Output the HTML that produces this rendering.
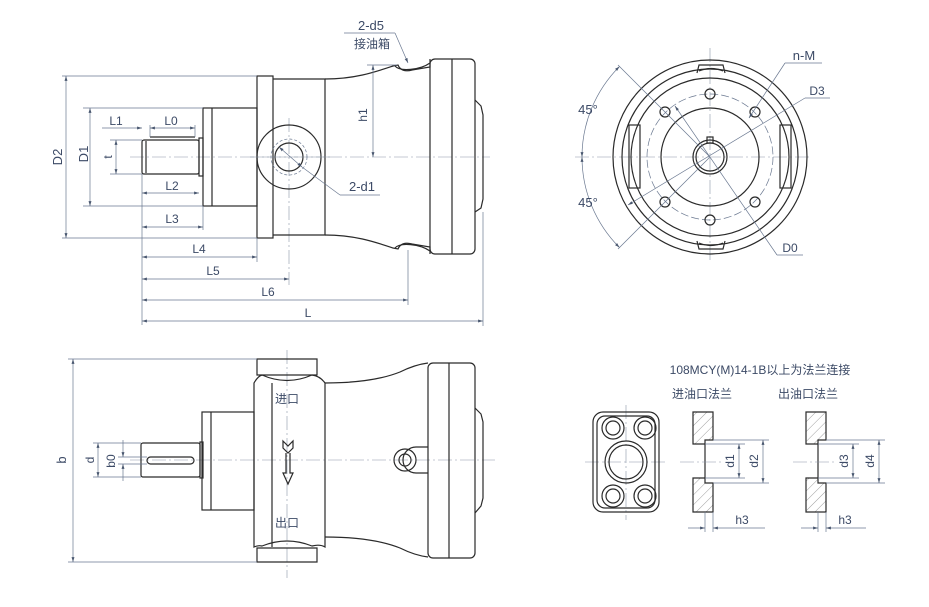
<!DOCTYPE html>
<html><head><meta charset="utf-8"><style>
html,body{margin:0;padding:0;background:#fff}
svg{display:block}
text{font-family:"Liberation Sans","Noto Sans CJK SC",sans-serif;fill:#3c4a66}
.o{fill:none;stroke:#2a2a2a;stroke-width:1.2}
.d{fill:none;stroke:#6a7890;stroke-width:0.7}
.c{fill:none;stroke:#8a96a8;stroke-width:0.6;stroke-dasharray:14 3 2 3}
</style></head><body>
<svg width="929" height="607" viewBox="0 0 929 607" xmlns="http://www.w3.org/2000/svg">
<defs>
<marker id="a" viewBox="0 0 10 10" refX="10" refY="5" markerWidth="7" markerHeight="7" orient="auto-start-reverse"><path d="M0,2 L10,5 L0,8z" fill="#4a5870"/></marker>
<pattern id="hp" patternUnits="userSpaceOnUse" width="7" height="7" patternTransform="rotate(45)"><line x1="0" y1="0" x2="0" y2="7" stroke="#777" stroke-width="0.7"/></pattern>
</defs>

<!-- ===== TOP LEFT VIEW ===== -->
<line class="c" x1="130" y1="157" x2="490" y2="157"/>
<line class="c" x1="289" y1="118" x2="289" y2="285"/>
<rect class="o" x="142" y="140" width="57" height="34" rx="2"/>
<line class="o" x1="146" y1="141" x2="146" y2="173"/>
<rect class="o" x="199" y="138" width="4" height="38"/>
<line class="o" x1="150" y1="137" x2="195" y2="137"/>
<rect class="o" x="203" y="108" width="54" height="98"/>
<line class="o" x1="212" y1="108" x2="212" y2="206"/>
<rect class="o" x="257" y="76" width="16" height="162"/>
<path class="o" d="M273,79 H325 V235 H273"/>
<path class="o" d="M325,79 C355,79 375,72 393,66 L398,65 C400,70 405,72 412,70 L430,67 V59"/>
<path class="o" d="M325,235 C355,235 375,242 393,248 L398,249 C400,244 405,242 412,244 L430,247 V254"/>
<path class="o" d="M395,66 C400,72 420,70 430,63"/>
<path class="o" d="M395,248 C400,242 420,244 430,251"/>
<rect class="o" x="430" y="59" width="45" height="195" rx="5"/>
<line class="o" x1="452" y1="59" x2="452" y2="254"/>
<path class="o" d="M475,100 L481,106 L483,115 V199 L481,208 L475,212"/>
<circle class="o" cx="289" cy="157" r="32" fill="#fff"/>
<circle class="d" cx="289" cy="157" r="18" stroke-dasharray="3 2"/>
<circle class="o" cx="289" cy="157" r="14"/>
<line class="c" x1="250" y1="157" x2="330" y2="157"/>
<line class="d" x1="62" y1="76" x2="257" y2="76"/><line class="d" x1="62" y1="238" x2="257" y2="238"/>
<line class="d" x1="66" y1="76" x2="66" y2="238" marker-start="url(#a)" marker-end="url(#a)"/>
<text x="62" y="157" font-size="13" transform="rotate(-90 62 157)" text-anchor="middle">D2</text>
<line class="d" x1="83" y1="108" x2="203" y2="108"/><line class="d" x1="83" y1="206" x2="203" y2="206"/>
<line class="d" x1="90" y1="108" x2="90" y2="206" marker-start="url(#a)" marker-end="url(#a)"/>
<text x="88" y="154" font-size="13" transform="rotate(-90 88 154)" text-anchor="middle">D1</text>
<line class="d" x1="110" y1="140" x2="142" y2="140"/><line class="d" x1="110" y1="174" x2="142" y2="174"/>
<line class="d" x1="116" y1="140" x2="116" y2="174" marker-start="url(#a)" marker-end="url(#a)"/>
<text x="112" y="157" font-size="12" transform="rotate(-90 112 157)" text-anchor="middle">t</text>
<line class="d" x1="150" y1="125" x2="150" y2="137"/><line class="d" x1="195" y1="125" x2="195" y2="137"/>
<line class="d" x1="102" y1="128" x2="142" y2="128" marker-end="url(#a)"/>
<line class="d" x1="150" y1="128" x2="195" y2="128" marker-start="url(#a)" marker-end="url(#a)"/>
<text x="116" y="125" font-size="12" text-anchor="middle">L1</text>
<text x="171" y="125" font-size="12" text-anchor="middle">L0</text>
<line class="d" x1="142" y1="174" x2="142" y2="325"/>
<line class="d" x1="142" y1="193" x2="199" y2="193" marker-start="url(#a)" marker-end="url(#a)"/>
<text x="172" y="190" font-size="12" text-anchor="middle">L2</text>
<line class="d" x1="203" y1="206" x2="203" y2="230"/>
<line class="d" x1="142" y1="227" x2="203" y2="227" marker-start="url(#a)" marker-end="url(#a)"/>
<text x="172" y="223" font-size="12" text-anchor="middle">L3</text>
<line class="d" x1="257" y1="238" x2="257" y2="262"/>
<line class="d" x1="142" y1="257" x2="257" y2="257" marker-start="url(#a)" marker-end="url(#a)"/>
<text x="199" y="253" font-size="12" text-anchor="middle">L4</text>
<line class="d" x1="142" y1="279" x2="289" y2="279" marker-start="url(#a)" marker-end="url(#a)"/>
<text x="213" y="275" font-size="12" text-anchor="middle">L5</text>
<line class="d" x1="408" y1="250" x2="408" y2="305"/>
<line class="d" x1="142" y1="300" x2="408" y2="300" marker-start="url(#a)" marker-end="url(#a)"/>
<text x="268" y="296" font-size="12" text-anchor="middle">L6</text>
<line class="d" x1="483" y1="212" x2="483" y2="326"/>
<line class="d" x1="142" y1="321" x2="483" y2="321" marker-start="url(#a)" marker-end="url(#a)"/>
<text x="308" y="317" font-size="12" text-anchor="middle">L</text>
<line class="d" x1="367" y1="65" x2="397" y2="65"/>
<line class="d" x1="373" y1="65" x2="373" y2="157" marker-start="url(#a)" marker-end="url(#a)"/>
<text x="367" y="115" font-size="12" transform="rotate(-90 367 115)" text-anchor="middle">h1</text>
<text x="371" y="30" font-size="13" text-anchor="middle">2-d5</text>
<line class="d" x1="344" y1="33" x2="395" y2="33"/>
<line class="d" x1="395" y1="33" x2="408" y2="63" marker-end="url(#a)"/>
<text x="372" y="48" font-size="12" text-anchor="middle">接油箱</text>
<line class="d" x1="279" y1="147" x2="302" y2="167" marker-start="url(#a)" marker-end="url(#a)"/>
<line class="d" x1="302" y1="167" x2="340" y2="195"/><line class="d" x1="340" y1="195" x2="380" y2="195"/>
<text x="362" y="191" font-size="13" text-anchor="middle">2-d1</text>

<!-- ===== TOP RIGHT VIEW ===== -->
<line class="c" x1="575" y1="157" x2="810" y2="157"/>
<line class="c" x1="710" y1="48" x2="710" y2="262"/>
<circle class="o" cx="710" cy="157" r="97"/>
<circle class="o" cx="710" cy="157" r="88"/>
<circle class="o" cx="710" cy="157" r="79"/>
<circle class="d" cx="710" cy="157" r="63" stroke-dasharray="8 3"/>
<circle class="o" cx="710" cy="157" r="49"/>
<circle class="o" cx="710" cy="157" r="17"/>
<circle class="o" cx="710" cy="157" r="14"/>
<rect class="o" x="707" y="137" width="6" height="6"/>
<rect class="o" x="629" y="125" width="11" height="63" fill="#fff"/>
<rect class="o" x="780" y="125" width="11" height="63" fill="#fff"/>
<path class="o" d="M697,73 L699,65 H723 L725,73 M699,71 Q711,66 723,71" fill="#fff"/>
<path class="o" d="M697,241 L699,249 H723 L725,241 M699,243 Q711,248 723,243" fill="#fff"/>
<g class="o">
<circle cx="710" cy="94" r="5"/><circle cx="710" cy="220" r="5"/>
<circle cx="665" cy="112" r="5"/><circle cx="755" cy="112" r="5"/>
<circle cx="665" cy="202" r="5"/><circle cx="755" cy="202" r="5"/>
</g>
<path class="d" d="M619.5,66.5 A128,128 0 0 0 582,157" marker-start="url(#a)" marker-end="url(#a)"/>
<path class="d" d="M582,157 A128,128 0 0 0 619.5,247.5" marker-start="url(#a)" marker-end="url(#a)"/>
<line class="d" x1="618" y1="65" x2="710" y2="157"/><line class="d" x1="618" y1="249" x2="710" y2="157"/>
<text x="588" y="114" font-size="13" text-anchor="middle">45°</text>
<text x="588" y="207" font-size="13" text-anchor="middle">45°</text>
<line class="d" x1="749" y1="118" x2="785" y2="63" marker-start="url(#a)"/><line class="d" x1="785" y1="63" x2="822" y2="63"/>
<text x="804" y="60" font-size="13" text-anchor="middle">n-M</text>
<line class="d" x1="628" y1="205" x2="805" y2="98" marker-start="url(#a)"/><line class="d" x1="805" y1="98" x2="830" y2="98"/>
<text x="817" y="95" font-size="12" text-anchor="middle">D3</text>
<line class="d" x1="675" y1="106" x2="777" y2="255" marker-start="url(#a)"/><line class="d" x1="777" y1="255" x2="803" y2="255"/>
<text x="790" y="252" font-size="12" text-anchor="middle">D0</text>

<!-- ===== BOTTOM LEFT VIEW ===== -->
<line class="c" x1="130" y1="460" x2="495" y2="460"/>
<line class="c" x1="287" y1="350" x2="287" y2="578"/>
<rect class="o" x="141" y="443" width="59" height="34" rx="2"/>
<rect class="o" x="200" y="442" width="3" height="36"/>
<rect class="o" x="147" y="457" width="47" height="7" rx="3.5"/>
<rect class="o" x="202" y="412" width="52" height="98"/>
<line class="o" x1="211" y1="412" x2="211" y2="510"/>
<path class="o" d="M257,359 H317 V375 H257 Z M257,548 H317 V562 H257 Z" fill="#fff"/>
<path class="o" d="M254,383 Q258,376 262,375 Q287,386 312,375 Q320,376 325,383 V547 Q320,544 312,546 Q287,536 262,546 Q258,545 254,547 Z"/>
<line class="o" x1="272" y1="383" x2="272" y2="547"/>
<path class="o" d="M325,383 C355,383 380,380 400,372 C410,367 420,364 428,363"/>
<path class="o" d="M325,537 C355,537 380,540 400,548 C410,553 420,556 428,557"/>
<rect class="o" x="428" y="363" width="47" height="195" rx="5"/>
<line class="o" x1="449" y1="363" x2="449" y2="558"/>
<path class="o" d="M475,408 L481,414 L483,422 V498 L481,506 L475,513"/>
<path class="o" d="M428,447 H416 A11,11 0 1 0 416,473 H428"/>
<circle class="o" cx="405" cy="460" r="11"/>
<circle class="o" cx="405" cy="460" r="6"/>
<path class="o" d="M283,441 L288,446 L293,441 L293,448 L288,453 L283,448 Z M286,453 V473 H283 L288,484 L293,473 H290 V453" fill="#fff"/>
<text x="287" y="403" font-size="12" text-anchor="middle">进口</text>
<text x="287" y="527" font-size="12" text-anchor="middle">出口</text>
<line class="d" x1="68" y1="359" x2="257" y2="359"/><line class="d" x1="68" y1="562" x2="257" y2="562"/>
<line class="d" x1="73" y1="359" x2="73" y2="562" marker-start="url(#a)" marker-end="url(#a)"/>
<text x="66" y="460" font-size="13" transform="rotate(-90 66 460)" text-anchor="middle">b</text>
<line class="d" x1="93" y1="443" x2="141" y2="443"/><line class="d" x1="93" y1="477" x2="141" y2="477"/>
<line class="d" x1="98" y1="443" x2="98" y2="477" marker-start="url(#a)" marker-end="url(#a)"/>
<text x="94" y="460" font-size="12" transform="rotate(-90 94 460)" text-anchor="middle">d</text>
<line class="d" x1="118" y1="457" x2="147" y2="457"/><line class="d" x1="118" y1="464" x2="147" y2="464"/>
<line class="d" x1="123" y1="440" x2="123" y2="457" marker-end="url(#a)"/>
<line class="d" x1="123" y1="481" x2="123" y2="464" marker-end="url(#a)"/>
<text x="115" y="461" font-size="12" transform="rotate(-90 115 461)" text-anchor="middle">b0</text>

<!-- ===== BOTTOM RIGHT ===== -->
<text x="760" y="374" font-size="12" text-anchor="middle">108MCY(M)14-1B以上为法兰连接</text>
<text x="702" y="398" font-size="12" text-anchor="middle">进油口法兰</text>
<text x="808" y="398" font-size="12" text-anchor="middle">出油口法兰</text>
<line class="c" x1="585" y1="462" x2="668" y2="462"/>
<line class="c" x1="626" y1="405" x2="626" y2="520"/>
<rect class="o" x="593" y="412" width="66" height="100" rx="10"/>
<rect class="o" x="597" y="416" width="58" height="92" rx="8"/>
<g class="o">
<circle cx="613" cy="428" r="11"/><circle cx="613" cy="428" r="7"/>
<circle cx="645" cy="428" r="11"/><circle cx="645" cy="428" r="7"/>
<circle cx="613" cy="496" r="11"/><circle cx="613" cy="496" r="7"/>
<circle cx="645" cy="496" r="11"/><circle cx="645" cy="496" r="7"/>
<circle cx="626" cy="462" r="21"/><circle cx="626" cy="462" r="17"/>
</g>
<path d="M693,412 H713 V440 H705 V444 H693 Z M693,478 H705 V483 H713 V512 H693 Z" fill="url(#hp)" stroke="#2a2a2a" stroke-width="1.2"/>
<line class="o" x1="705" y1="444" x2="705" y2="478"/>
<line class="c" x1="680" y1="462" x2="722" y2="462"/>
<line class="d" x1="705" y1="444" x2="745" y2="444"/><line class="d" x1="705" y1="478" x2="745" y2="478"/>
<line class="d" x1="739" y1="444" x2="739" y2="478" marker-start="url(#a)" marker-end="url(#a)"/>
<text x="734" y="461" font-size="12" transform="rotate(-90 734 461)" text-anchor="middle">d1</text>
<line class="d" x1="713" y1="440" x2="769" y2="440"/><line class="d" x1="713" y1="483" x2="769" y2="483"/>
<line class="d" x1="763" y1="440" x2="763" y2="483" marker-start="url(#a)" marker-end="url(#a)"/>
<text x="758" y="461" font-size="12" transform="rotate(-90 758 461)" text-anchor="middle">d2</text>
<line class="d" x1="705" y1="512" x2="705" y2="532"/><line class="d" x1="713" y1="512" x2="713" y2="532"/>
<line class="d" x1="688" y1="528" x2="705" y2="528" marker-end="url(#a)"/>
<line class="d" x1="765" y1="528" x2="713" y2="528" marker-end="url(#a)"/>
<text x="742" y="524" font-size="12" text-anchor="middle">h3</text>
<path d="M806,412 H826 V440 H818 V444 H806 Z M806,478 H818 V483 H826 V512 H806 Z" fill="url(#hp)" stroke="#2a2a2a" stroke-width="1.2"/>
<line class="o" x1="818" y1="444" x2="818" y2="478"/>
<line class="c" x1="793" y1="462" x2="835" y2="462"/>
<line class="d" x1="818" y1="444" x2="859" y2="444"/><line class="d" x1="818" y1="478" x2="859" y2="478"/>
<line class="d" x1="853" y1="444" x2="853" y2="478" marker-start="url(#a)" marker-end="url(#a)"/>
<text x="848" y="461" font-size="12" transform="rotate(-90 848 461)" text-anchor="middle">d3</text>
<line class="d" x1="826" y1="440" x2="885" y2="440"/><line class="d" x1="826" y1="483" x2="885" y2="483"/>
<line class="d" x1="879" y1="440" x2="879" y2="483" marker-start="url(#a)" marker-end="url(#a)"/>
<text x="874" y="461" font-size="12" transform="rotate(-90 874 461)" text-anchor="middle">d4</text>
<line class="d" x1="818" y1="512" x2="818" y2="532"/><line class="d" x1="826" y1="512" x2="826" y2="532"/>
<line class="d" x1="801" y1="528" x2="818" y2="528" marker-end="url(#a)"/>
<line class="d" x1="866" y1="528" x2="826" y2="528" marker-end="url(#a)"/>
<text x="845" y="524" font-size="12" text-anchor="middle">h3</text>
</svg>
</body></html>
